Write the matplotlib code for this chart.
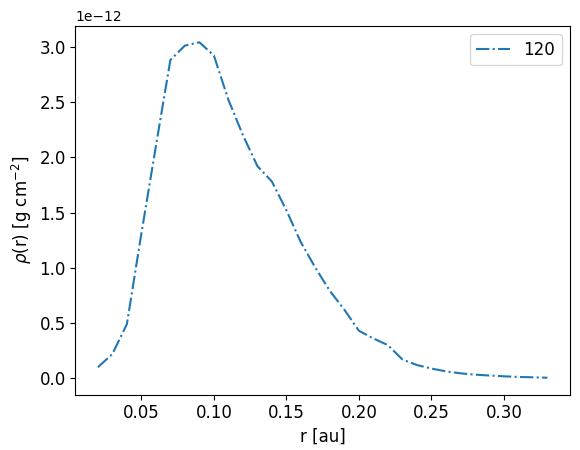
import matplotlib
matplotlib.use("Agg")
import matplotlib.pyplot as plt
import numpy as np

r_au = [0.02, 0.03, 0.04, 0.05, 0.06, 0.07, 0.08, 0.09, 0.10, 0.11,
        0.12, 0.13, 0.14, 0.15, 0.16, 0.17, 0.18, 0.19, 0.20, 0.21,
        0.22, 0.23, 0.24, 0.25, 0.26, 0.27, 0.28, 0.29, 0.30, 0.31,
        0.32, 0.33]
rho = [0.10, 0.22, 0.49, 1.31, 2.10, 2.88, 3.01, 3.04, 2.92, 2.52,
       2.20, 1.92, 1.78, 1.52, 1.23, 1.00, 0.79, 0.62, 0.43, 0.36,
       0.30, 0.17, 0.12, 0.088, 0.063, 0.045, 0.033, 0.025, 0.018, 0.012,
       0.009, 0.005]
rho = [v * 1e-12 for v in rho]
series_label = "120"

fig = plt.figure(figsize=(5.8, 4.5), dpi=100)
ax = fig.add_axes([0.130, 0.1233, 0.8526, 0.82])
ax.plot(r_au, rho, linestyle='-.', color='#1f77b4', label=series_label)
ax.set_xlabel('r [au]', fontsize=12)
ax.set_ylabel(r'$\rho$(r) [g cm$^{-2}$]', fontsize=12)
ax.tick_params(labelsize=12)
ax.legend(loc='upper right', fontsize=12)
fig.savefig('out.png', dpi=100)
